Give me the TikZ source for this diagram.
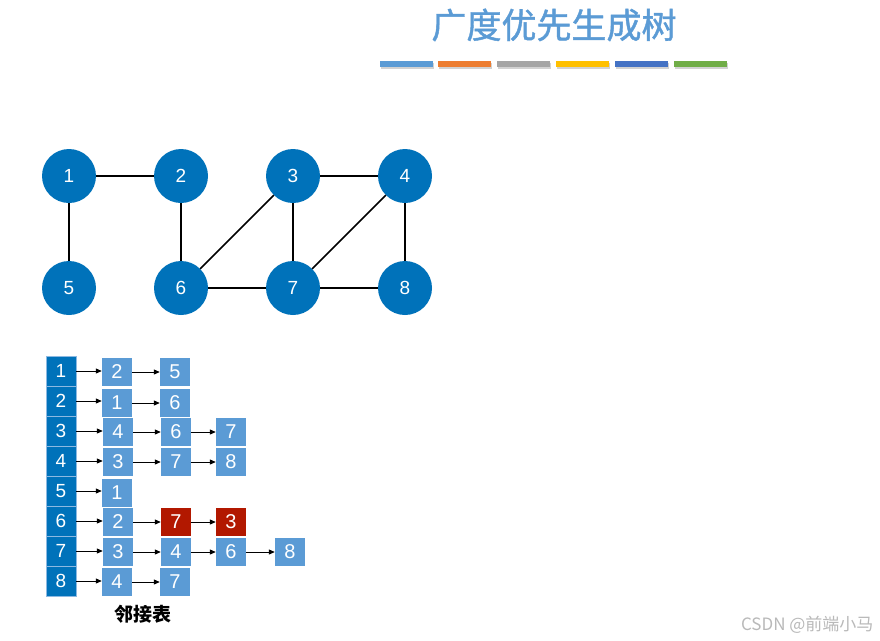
\documentclass[tikz,border=0pt]{standalone}
\usepackage{fontspec}
\setmainfont{Liberation Sans}
\newfontfamily\cjk{Noto Sans CJK SC}
\newfontfamily\cjkm[FakeBold=1.2]{Noto Sans CJK SC}
\usetikzlibrary{arrows.meta}
\definecolor{gblue}{RGB}{0,114,186}
\definecolor{cblue}{RGB}{91,155,213}
\definecolor{cred}{RGB}{178,24,0}
\definecolor{bar1}{RGB}{91,155,213}
\definecolor{bar2}{RGB}{237,125,49}
\definecolor{bar3}{RGB}{165,165,165}
\definecolor{bar4}{RGB}{255,192,0}
\definecolor{bar5}{RGB}{68,114,196}
\definecolor{bar6}{RGB}{112,173,71}
\tikzset{
  vert/.style={circle,fill=gblue,minimum size=54pt,inner sep=0pt,text=white,font=\fontsize{19}{19}\selectfont},
  edge/.style={draw=black,line width=1.5pt},
  head/.style={fill=gblue,draw=cblue!70,line width=0.5pt,minimum width=30pt,minimum height=30pt,inner sep=0pt,text=white,font=\fontsize{19}{19}\selectfont},
  cell/.style={fill=cblue,minimum width=30pt,minimum height=28pt,inner sep=0pt,text=white,font=\fontsize{20}{20}\selectfont},
  rcell/.style={cell,fill=cred},
  link/.style={draw=black,line width=1pt,-{Triangle[length=6pt,width=5pt]}},
  barstyle/.style={minimum width=53pt,minimum height=6pt,inner sep=0pt}
}
\begin{document}
\begin{tikzpicture}[x=1pt,y=-1pt]
\useasboundingbox[fill=white] (0,0) rectangle (880,640);
% title
\node[text=cblue,font=\cjkm\fontsize{35}{35}\selectfont] (title) at (554,25) {广度优先生成树};
\foreach \i/\x in {1/406,2/464,3/523,4/582,5/641,6/700}{
  \fill[gray!35] (\x-25,63) rectangle (\x+28,69);
  \node[barstyle,fill=bar\i] (bar\i) at (\x,64) {};
}
% graph
\node[vert] (v1) at (69,176) {1};
\node[vert] (v2) at (181,176) {2};
\node[vert] (v3) at (293,176) {3};
\node[vert] (v4) at (405,176) {4};
\node[vert] (v5) at (69,288) {5};
\node[vert] (v6) at (181,288) {6};
\node[vert] (v7) at (293,288) {7};
\node[vert] (v8) at (405,288) {8};
\draw[edge] (v1) -- (v2);
\draw[edge] (v1) -- (v5);
\draw[edge] (v2) -- (v6);
\draw[edge] (v3) -- (v4);
\draw[edge] (v3) -- (v6);
\draw[edge] (v3) -- (v7);
\draw[edge] (v4) -- (v7);
\draw[edge] (v4) -- (v8);
\draw[edge] (v6) -- (v7);
\draw[edge] (v7) -- (v8);
% adjacency list heads
\foreach \r in {1,...,8}{
  \node[head] (h\r) at (61,341+30*\r) {\r};
}
% cells
\node[cell] (c11) at (117,372) {2};
\node[cell] (c12) at (175,372) {5};
\node[cell] (c21) at (117,403) {1};
\node[cell] (c22) at (175,403) {6};
\node[cell] (c31) at (118,432) {4};
\node[cell] (c32) at (176,432) {6};
\node[cell] (c33) at (231,432) {7};
\node[cell] (c41) at (118,462) {3};
\node[cell] (c42) at (176,462) {7};
\node[cell] (c43) at (231,462) {8};
\node[cell] (c51) at (117,493) {1};
\node[cell] (c61) at (118,522) {2};
\node[rcell] (c62) at (176,522) {7};
\node[rcell] (c63) at (231,522) {3};
\node[cell] (c71) at (118,552) {3};
\node[cell] (c72) at (176,552) {4};
\node[cell] (c73) at (231,552) {6};
\node[cell] (c74) at (290,552) {8};
\node[cell] (c81) at (117,582) {4};
\node[cell] (c82) at (175,582) {7};
% links
\draw[link] (h1.east) -- (c11.west|-h1.east);
\draw[link] (c11) -- (c12);
\draw[link] (h2.east) -- (c21.west|-h2.east);
\draw[link] (c21) -- (c22);
\draw[link] (h3.east) -- (c31.west|-h3.east);
\draw[link] (c31) -- (c32);
\draw[link] (c32) -- (c33);
\draw[link] (h4.east) -- (c41.west|-h4.east);
\draw[link] (c41) -- (c42);
\draw[link] (c42) -- (c43);
\draw[link] (h5.east) -- (c51.west|-h5.east);
\draw[link] (h6.east) -- (c61.west|-h6.east);
\draw[link] (c61) -- (c62);
\draw[link] (c62) -- (c63);
\draw[link] (h7.east) -- (c71.west|-h7.east);
\draw[link] (c71) -- (c72);
\draw[link] (c72) -- (c73);
\draw[link] (c73) -- (c74);
\draw[link] (h8.east) -- (c81.west|-h8.east);
\draw[link] (c81) -- (c82);
% label
\node[font=\cjk\bfseries\fontsize{19}{19}\selectfont] (lbl) at (143,614) {邻接表};
\node[text=gray!55,font=\cjk\fontsize{17}{17}\selectfont,anchor=east] (wm) at (877,625) {CSDN @前端小马};
\end{tikzpicture}
\end{document}
